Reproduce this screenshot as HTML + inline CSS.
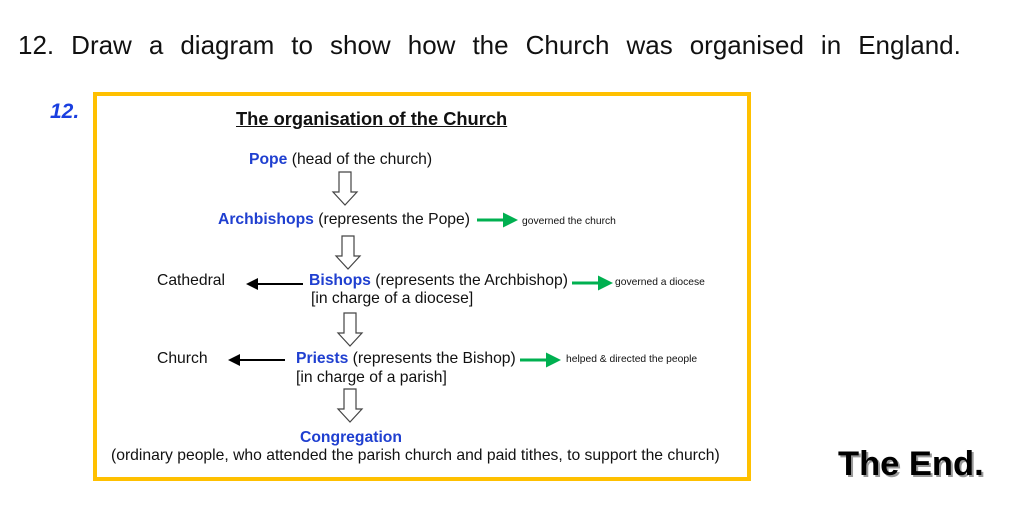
<!DOCTYPE html><html><head><style>
body{margin:0;width:1023px;height:518px;background:#fff;position:relative;overflow:hidden;font-family:"Liberation Sans",Arial,sans-serif}
.t{position:absolute;white-space:nowrap;color:#111}
.b{color:#1f3fd0;font-weight:bold}
.s{font-size:15.7px}
.sm{font-size:10.3px}
</style></head><body>
<div class="t" style="left:18px;top:30px;font-size:26px;word-spacing:9.8px">12. Draw a diagram to show how the Church was organised in England.</div>
<div class="t" style="left:50px;top:100px;font-size:21px;color:#1a3fe0;font-style:italic;font-weight:bold">12.</div>
<div style="position:absolute;left:93px;top:92px;width:650px;height:381px;border:4px solid #FFC000"></div>
<div class="t" style="left:236px;top:108px;font-size:18.3px;font-weight:bold;text-decoration:underline">The organisation of the Church</div>
<div class="t s" style="left:249px;top:151px"><span class="b">Pope</span> (head of the church)</div>
<div class="t s" style="left:218px;top:211px"><span class="b">Archbishops</span> (represents the Pope)</div>
<div class="t sm" style="left:522px;top:216px">governed the church</div>
<div class="t s" style="left:157px;top:272px">Cathedral</div>
<div class="t s" style="left:309px;top:272px"><span class="b">Bishops</span> (represents the Archbishop)</div>
<div class="t sm" style="left:615px;top:277px">governed a diocese</div>
<div class="t s" style="left:311px;top:290px">[in charge of a diocese]</div>
<div class="t s" style="left:157px;top:350px">Church</div>
<div class="t s" style="left:296px;top:350px"><span class="b">Priests</span> (represents the Bishop)</div>
<div class="t sm" style="left:566px;top:354px">helped &amp; directed the people</div>
<div class="t s" style="left:296px;top:369px">[in charge of a parish]</div>
<div class="t s" style="left:300px;top:429px"><span class="b">Congregation</span></div>
<div class="t s" style="left:111px;top:447px">(ordinary people, who attended the parish church and paid tithes, to support the church)</div>
<div class="t" style="left:838px;top:445px;font-size:34.5px;font-weight:bold;color:#000;-webkit-text-stroke:1.5px #fff;paint-order:stroke fill;text-shadow:2px 2px 0 #999">The End.</div>
<svg width="1023" height="518" style="position:absolute;left:0;top:0">
<defs>
<g id="ha"><path d="M-6,0 H6 V20 H12 L0,33 L-12,20 H-6 Z" fill="#fff" stroke="#444" stroke-width="1.2"/></g>
<marker id="g" markerWidth="5" markerHeight="5" refX="4" refY="2.5" orient="auto" markerUnits="strokeWidth"><path d="M0,0 L5,2.5 L0,5Z" fill="#00b050"/></marker>
<marker id="k" markerWidth="6" markerHeight="6" refX="5" refY="3" orient="auto" markerUnits="strokeWidth"><path d="M0,0 L6,3 L0,6Z" fill="#000"/></marker>
</defs>
<use href="#ha" x="345" y="172"/>
<use href="#ha" x="348" y="236"/>
<use href="#ha" x="350" y="313"/>
<use href="#ha" x="350" y="389"/>
<line x1="477" y1="220" x2="515" y2="220" stroke="#00b050" stroke-width="3" marker-end="url(#g)"/>
<line x1="572" y1="283" x2="610" y2="283" stroke="#00b050" stroke-width="3" marker-end="url(#g)"/>
<line x1="520" y1="360" x2="558" y2="360" stroke="#00b050" stroke-width="3" marker-end="url(#g)"/>
<line x1="303" y1="284" x2="248" y2="284" stroke="#000" stroke-width="2" marker-end="url(#k)"/>
<line x1="285" y1="360" x2="230" y2="360" stroke="#000" stroke-width="2" marker-end="url(#k)"/>
</svg>
</body></html>
